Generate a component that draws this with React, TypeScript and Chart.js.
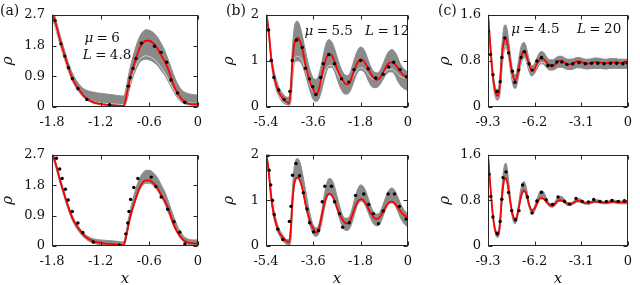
import React, { useEffect, useRef } from "react";
import { Chart, registerables } from "chart.js";

Chart.register(...registerables);

const FONT = "'DejaVu Serif', serif";
const GRAY = "#8a8a8a";
const LIGHT = "#dcdcdc";
const RED = "#ff0000";
const AXIS = "#262626";
const TEXT = "#111111";

// ---------------- Panel (a) ----------------
const aX = [-1.8, -1.75, -1.7, -1.65, -1.6, -1.55, -1.5, -1.45, -1.4, -1.3, -1.2, -1.1, -1.0, -0.92, -0.9, -0.87, -0.84, -0.8, -0.76, -0.72, -0.68, -0.64, -0.6, -0.55, -0.5, -0.45, -0.4, -0.35, -0.3, -0.25, -0.2, -0.15, -0.1, -0.05, 0];
const aRed = [2.78, 2.4, 1.94, 1.55, 1.17, 0.84, 0.62, 0.45, 0.3, 0.15, 0.09, 0.06, 0.04, 0.03, 0.12, 0.45, 0.8, 1.15, 1.45, 1.72, 1.88, 1.94, 1.94, 1.86, 1.72, 1.5, 1.3, 1.0, 0.64, 0.4, 0.23, 0.13, 0.09, 0.08, 0.08];
const aTopHi = [2.95, 2.55, 2.1, 1.7, 1.32, 1.0, 0.78, 0.62, 0.52, 0.44, 0.4, 0.37, 0.34, 0.32, 0.4, 0.75, 1.1, 1.48, 1.8, 2.05, 2.2, 2.26, 2.25, 2.18, 2.05, 1.85, 1.6, 1.28, 0.95, 0.68, 0.5, 0.42, 0.38, 0.36, 0.35];
const aTopLo = [2.6, 2.25, 1.82, 1.43, 1.07, 0.76, 0.55, 0.39, 0.26, 0.12, 0.07, 0.05, 0.03, 0.02, 0.04, 0.25, 0.55, 0.88, 1.12, 1.3, 1.38, 1.4, 1.38, 1.32, 1.22, 1.06, 0.9, 0.68, 0.46, 0.27, 0.14, 0.08, 0.06, 0.05, 0.05];
const aTopLight = [2.65, 2.28, 1.85, 1.46, 1.1, 0.79, 0.58, 0.42, 0.3, 0.17, 0.12, 0.1, 0.08, 0.07, 0.1, 0.35, 0.65, 0.98, 1.22, 1.39, 1.47, 1.5, 1.48, 1.42, 1.3, 1.14, 0.96, 0.74, 0.52, 0.33, 0.2, 0.14, 0.12, 0.11, 0.11];
const aBotHi = [2.85, 2.46, 2.0, 1.6, 1.22, 0.9, 0.67, 0.5, 0.36, 0.22, 0.18, 0.16, 0.14, 0.12, 0.25, 0.62, 1.0, 1.4, 1.74, 2.0, 2.16, 2.24, 2.24, 2.17, 2.03, 1.8, 1.56, 1.22, 0.88, 0.58, 0.36, 0.24, 0.19, 0.18, 0.18];
const aBotLo = [2.7, 2.3, 1.86, 1.46, 1.08, 0.76, 0.54, 0.37, 0.24, 0.09, 0.04, 0.03, 0.02, 0.02, 0.08, 0.4, 0.75, 1.1, 1.4, 1.65, 1.8, 1.86, 1.86, 1.79, 1.65, 1.44, 1.2, 0.9, 0.6, 0.36, 0.18, 0.08, 0.04, 0.03, 0.03];
const aTopDotX = [-1.763, -1.69, -1.642, -1.597, -1.548, -1.48, -1.37, -1.09, -0.859, -0.835, -0.8, -0.762, -0.697, -0.535, -0.454, -0.385, -0.332, -0.251, -0.161];
const aTopDotY = [2.53, 1.85, 1.49, 1.15, 0.83, 0.54, 0.22, 0.07, 0.61, 0.86, 1.13, 1.42, 1.87, 1.78, 1.6, 1.31, 0.79, 0.41, 0.14];
const aBotDotX = [-1.745, -1.705, -1.675, -1.635, -1.6, -1.55, -1.48, -1.42, -1.29, -0.97, -0.89, -0.865, -0.85, -0.83, -0.79, -0.74, -0.575, -0.519, -0.453, -0.373, -0.295, -0.222, -0.16];
const aBotDotY = [2.6, 2.28, 2.0, 1.68, 1.36, 1.02, 0.68, 0.4, 0.12, 0.02, 0.36, 0.68, 1.02, 1.38, 1.73, 2.0, 2.04, 1.76, 1.45, 1.09, 0.72, 0.41, 0.06];
const aXTicks = [-1.8, -1.2, -0.6, 0];
const aXTickLabels = ["-1.8", "-1.2", "-0.6", "0"];
const aYTicks = [0, 0.9, 1.8, 2.7];
const aYTickLabels = ["0", "0.9", "1.8", "2.7"];

// ---------------- Panel (b) ----------------
const bX = [-5.4, -5.3, -5.2, -5.1, -5.0, -4.9, -4.8, -4.7, -4.6, -4.52, -4.45, -4.4, -4.35, -4.3, -4.2, -4.1, -4.0, -3.9, -3.8, -3.7, -3.6, -3.5, -3.4, -3.3, -3.2, -3.1, -3.0, -2.9, -2.8, -2.7, -2.6, -2.5, -2.4, -2.3, -2.2, -2.1, -2.0, -1.9, -1.8, -1.7, -1.6, -1.5, -1.4, -1.3, -1.2, -1.1, -1.0, -0.9, -0.8, -0.7, -0.6, -0.5, -0.4, -0.3, -0.2, -0.1, 0];
const bRed = [2.05, 1.65, 1.05, 0.68, 0.45, 0.3, 0.22, 0.15, 0.1, 0.08, 0.4, 0.95, 1.25, 1.42, 1.5, 1.42, 1.22, 0.92, 0.68, 0.5, 0.38, 0.29, 0.36, 0.6, 0.88, 1.07, 1.15, 1.12, 1.0, 0.84, 0.7, 0.59, 0.51, 0.49, 0.55, 0.7, 0.86, 0.98, 1.03, 1.01, 0.93, 0.82, 0.71, 0.63, 0.59, 0.61, 0.69, 0.8, 0.9, 0.96, 0.97, 0.93, 0.86, 0.78, 0.71, 0.66, 0.63];
const bTopHi = [2.15, 1.75, 1.15, 0.8, 0.58, 0.42, 0.32, 0.25, 0.21, 0.22, 0.65, 1.25, 1.6, 1.8, 1.86, 1.74, 1.5, 1.22, 0.96, 0.76, 0.63, 0.6, 0.68, 0.9, 1.18, 1.4, 1.46, 1.42, 1.28, 1.1, 0.92, 0.78, 0.7, 0.68, 0.74, 0.92, 1.1, 1.24, 1.3, 1.27, 1.16, 1.0, 0.86, 0.77, 0.74, 0.76, 0.86, 1.0, 1.14, 1.22, 1.25, 1.2, 1.1, 0.95, 0.86, 0.8, 0.76];
const bTopLo = [1.95, 1.55, 0.95, 0.58, 0.36, 0.22, 0.12, 0.07, 0.05, 0.04, 0.12, 0.5, 0.85, 0.98, 1.0, 0.98, 0.88, 0.7, 0.5, 0.3, 0.16, 0.12, 0.16, 0.32, 0.55, 0.76, 0.86, 0.86, 0.78, 0.62, 0.46, 0.34, 0.28, 0.28, 0.34, 0.48, 0.64, 0.76, 0.8, 0.78, 0.7, 0.56, 0.46, 0.42, 0.42, 0.46, 0.54, 0.64, 0.72, 0.76, 0.76, 0.7, 0.58, 0.48, 0.42, 0.38, 0.36];
const bTopLight = [1.98, 1.58, 0.98, 0.62, 0.4, 0.25, 0.16, 0.1, 0.08, 0.07, 0.2, 0.62, 0.95, 1.06, 1.1, 1.08, 0.98, 0.8, 0.6, 0.44, 0.34, 0.32, 0.38, 0.52, 0.7, 0.84, 0.9, 0.9, 0.84, 0.74, 0.62, 0.54, 0.5, 0.51, 0.56, 0.64, 0.74, 0.82, 0.85, 0.84, 0.78, 0.7, 0.63, 0.6, 0.6, 0.63, 0.69, 0.75, 0.8, 0.82, 0.82, 0.78, 0.72, 0.67, 0.64, 0.62, 0.61];
const bBotHi = [2.12, 1.75, 1.18, 0.8, 0.55, 0.38, 0.27, 0.19, 0.14, 0.14, 0.6, 1.2, 1.6, 1.82, 1.92, 1.82, 1.56, 1.24, 0.92, 0.64, 0.46, 0.4, 0.45, 0.7, 1.05, 1.35, 1.48, 1.46, 1.32, 1.1, 0.88, 0.7, 0.61, 0.61, 0.68, 0.86, 1.08, 1.26, 1.34, 1.31, 1.2, 1.03, 0.86, 0.74, 0.7, 0.72, 0.82, 0.98, 1.14, 1.24, 1.27, 1.22, 1.1, 0.96, 0.84, 0.76, 0.71];
const bBotLo = [1.96, 1.58, 0.98, 0.62, 0.4, 0.24, 0.14, 0.07, 0.03, 0.02, 0.15, 0.7, 1.15, 1.4, 1.5, 1.42, 1.2, 0.92, 0.64, 0.4, 0.25, 0.21, 0.26, 0.45, 0.75, 1.02, 1.12, 1.1, 0.98, 0.8, 0.6, 0.44, 0.35, 0.34, 0.4, 0.56, 0.76, 0.92, 0.98, 0.96, 0.86, 0.72, 0.58, 0.48, 0.44, 0.46, 0.56, 0.72, 0.86, 0.94, 0.95, 0.9, 0.78, 0.64, 0.53, 0.46, 0.42];
const bTopDotX = [-5.3, -5.2, -5.1, -4.92, -4.71, -4.49, -4.4, -4.24, -4.02, -3.9, -3.75, -3.62, -3.5, -3.32, -3.22, -3.01, -2.79, -2.52, -2.25, -2.05, -1.8, -1.51, -1.22, -0.94, -0.73, -0.54, -0.3, -0.05];
const bTopDotY = [1.67, 1.01, 0.64, 0.37, 0.16, 0.34, 1.01, 1.45, 1.29, 0.84, 0.61, 0.44, 0.27, 0.64, 0.94, 1.14, 0.94, 0.61, 0.54, 0.81, 1.01, 0.83, 0.63, 0.71, 0.87, 0.97, 0.81, 0.65];
const bBotDotX = [-5.31, -5.28, -5.22, -5.15, -5.09, -4.95, -4.76, -4.51, -4.45, -4.39, -4.26, -4.12, -3.98, -3.84, -3.74, -3.59, -3.4, -3.26, -3.16, -2.91, -2.79, -2.6, -2.48, -2.23, -1.99, -1.68, -1.49, -1.31, -1.12, -0.94, -0.75, -0.51, -0.32, -0.07];
const bBotDotY = [1.99, 1.66, 1.34, 1.0, 0.69, 0.37, 0.14, 0.54, 0.87, 1.55, 1.81, 1.54, 1.17, 0.81, 0.51, 0.31, 0.34, 0.97, 1.31, 1.31, 0.97, 0.71, 0.41, 0.51, 1.11, 1.14, 0.91, 0.71, 0.49, 0.77, 1.14, 1.14, 0.87, 0.59];
const bXTicks = [-5.4, -3.6, -1.8, 0];
const bXTickLabels = ["-5.4", "-3.6", "-1.8", "0"];
const bYTicks = [0, 1, 2];
const bYTickLabels = ["0", "1", "2"];

// ---------------- Panel (c) ----------------
const cX = [-9.3, -9.2, -9.1, -9.0, -8.9, -8.8, -8.7, -8.6, -8.5, -8.4, -8.3, -8.2, -8.1, -8.0, -7.9, -7.8, -7.7, -7.6, -7.5, -7.4, -7.3, -7.2, -7.1, -7.0, -6.9, -6.8, -6.7, -6.6, -6.5, -6.4, -6.3, -6.2, -6.0, -5.8, -5.6, -5.4, -5.2, -5.0, -4.8, -4.6, -4.4, -4.2, -4.0, -3.8, -3.6, -3.4, -3.2, -3.0, -2.8, -2.6, -2.4, -2.2, -2.0, -1.8, -1.6, -1.4, -1.2, -1.0, -0.8, -0.6, -0.4, -0.2, 0];
const cRed = [1.62, 1.25, 0.9, 0.6, 0.38, 0.25, 0.19, 0.21, 0.4, 0.78, 1.05, 1.18, 1.18, 1.08, 0.92, 0.75, 0.6, 0.5, 0.46, 0.49, 0.6, 0.74, 0.87, 0.95, 0.97, 0.94, 0.86, 0.76, 0.68, 0.63, 0.63, 0.66, 0.77, 0.84, 0.83, 0.77, 0.72, 0.71, 0.75, 0.8, 0.8, 0.77, 0.74, 0.74, 0.76, 0.79, 0.79, 0.77, 0.755, 0.755, 0.77, 0.78, 0.777, 0.77, 0.762, 0.763, 0.77, 0.775, 0.772, 0.768, 0.766, 0.767, 0.768];
const cTopHi = [1.7, 1.34, 0.98, 0.68, 0.46, 0.34, 0.3, 0.33, 0.58, 0.98, 1.28, 1.42, 1.42, 1.3, 1.1, 0.88, 0.7, 0.6, 0.56, 0.6, 0.76, 0.92, 1.05, 1.11, 1.12, 1.08, 0.98, 0.86, 0.76, 0.72, 0.72, 0.76, 0.88, 0.96, 0.95, 0.87, 0.82, 0.82, 0.85, 0.88, 0.88, 0.85, 0.83, 0.83, 0.84, 0.86, 0.86, 0.84, 0.83, 0.83, 0.84, 0.85, 0.85, 0.84, 0.83, 0.83, 0.84, 0.84, 0.84, 0.83, 0.83, 0.83, 0.83];
const cTopLo = [1.55, 1.15, 0.8, 0.5, 0.28, 0.16, 0.12, 0.13, 0.24, 0.55, 0.84, 1.0, 1.02, 0.95, 0.8, 0.62, 0.45, 0.35, 0.32, 0.36, 0.48, 0.62, 0.74, 0.82, 0.85, 0.82, 0.74, 0.64, 0.57, 0.54, 0.55, 0.58, 0.68, 0.75, 0.74, 0.68, 0.64, 0.64, 0.66, 0.69, 0.69, 0.67, 0.65, 0.65, 0.66, 0.68, 0.68, 0.67, 0.66, 0.66, 0.67, 0.67, 0.67, 0.67, 0.66, 0.66, 0.67, 0.67, 0.67, 0.67, 0.67, 0.67, 0.67];
const cTopLight = [1.58, 1.18, 0.83, 0.54, 0.33, 0.21, 0.17, 0.19, 0.32, 0.65, 0.92, 1.05, 1.06, 0.98, 0.84, 0.68, 0.54, 0.46, 0.44, 0.47, 0.56, 0.67, 0.77, 0.84, 0.86, 0.83, 0.77, 0.69, 0.63, 0.61, 0.62, 0.64, 0.72, 0.77, 0.77, 0.73, null, null, null, null, null, null, null, null, null, null, null, null, null, null, null, null, null, null, null, null, null, null, null, null, null, null, null];
const cBotHi = [1.66, 1.3, 0.95, 0.65, 0.43, 0.3, 0.25, 0.27, 0.5, 0.92, 1.25, 1.42, 1.45, 1.32, 1.08, 0.82, 0.62, 0.52, 0.49, 0.53, 0.68, 0.86, 1.02, 1.11, 1.13, 1.08, 0.96, 0.8, 0.69, 0.64, 0.65, 0.7, 0.86, 0.97, 0.95, 0.83, 0.75, 0.74, 0.8, 0.87, 0.87, 0.81, 0.76, 0.76, 0.79, 0.83, 0.83, 0.8, 0.77, 0.77, 0.79, 0.81, 0.81, 0.79, 0.78, 0.78, 0.8, 0.81, 0.8, 0.79, 0.79, 0.79, 0.79];
const cBotLo = [1.58, 1.22, 0.87, 0.57, 0.36, 0.22, 0.15, 0.16, 0.32, 0.66, 0.96, 1.14, 1.17, 1.08, 0.9, 0.7, 0.52, 0.42, 0.39, 0.43, 0.56, 0.71, 0.85, 0.93, 0.95, 0.91, 0.82, 0.71, 0.62, 0.57, 0.57, 0.61, 0.74, 0.83, 0.82, 0.75, 0.69, 0.68, 0.72, 0.78, 0.78, 0.75, 0.71, 0.71, 0.74, 0.77, 0.77, 0.75, 0.73, 0.73, 0.75, 0.76, 0.76, 0.75, 0.74, 0.74, 0.75, 0.76, 0.75, 0.74, 0.74, 0.74, 0.74];
const cTopDotX = [-9.28, -9.13, -8.97, -8.69, -8.49, -8.38, -8.18, -7.93, -7.68, -7.51, -7.26, -7.1, -6.88, -6.57, -6.37, -6.05, -5.74, -5.32, -5.05, -4.72, -4.39, -4.05, -3.66, -3.25, -2.83, -2.41, -2.0, -1.58, -1.16, -0.75, -0.33, 0];
const cTopDotY = [1.31, 0.91, 0.56, 0.27, 0.44, 0.86, 1.2, 0.94, 0.62, 0.43, 0.64, 0.86, 0.96, 0.75, 0.64, 0.8, 0.86, 0.72, 0.72, 0.78, 0.78, 0.74, 0.75, 0.77, 0.75, 0.76, 0.76, 0.75, 0.76, 0.76, 0.75, 0.76];
const cBotDotX = [-9.24, -9.11, -8.97, -8.69, -8.49, -8.38, -8.3, -8.1, -7.93, -7.72, -7.47, -7.24, -7.0, -6.68, -6.37, -6.05, -5.74, -5.43, -5.01, -4.64, -4.22, -3.87, -3.45, -3.04, -2.62, -2.27, -1.85, -1.43, -1.06, -0.64, -0.23];
const cBotDotY = [1.26, 0.87, 0.51, 0.22, 0.43, 0.82, 1.2, 1.3, 0.94, 0.62, 0.46, 0.62, 1.07, 0.86, 0.58, 0.79, 0.94, 0.81, 0.73, 0.86, 0.785, 0.735, 0.835, 0.78, 0.775, 0.815, 0.78, 0.78, 0.8, 0.78, 0.795];
const cXTicks = [-9.3, -6.2, -3.1, 0];
const cXTickLabels = ["-9.3", "-6.2", "-3.1", "0"];
const cYTicks = [0, 0.8, 1.6];
const cYTickLabels = ["0", "0.8", "1.6"];

type Seg = [string, boolean, number];
type Note = { x: number; y: number; segs: Seg[] };

interface PanelSpec {
  left: number; top: number; width: number; height: number;
  padTop: number; padRight: number; yAxisW: number; xAxisH: number;
  xMin: number; xMax: number; yMax: number;
  xTicks: number[]; xTickLabels: string[]; yTicks: number[]; yTickLabels: string[];
  xs: number[]; red: number[]; hi: number[]; lo: number[]; light?: (number | null)[];
  dotX: number[]; dotY: number[];
  letter?: string; letterX?: number; letterY?: number;
  yTitlePad: number; showXTitle: boolean; notes: Note[];
}

const G = 0.25;
const notesA: Note[] = [
  { x: -1.4, y: 1.91, segs: [["μ", true, G], ["=", false, G], ["6", false, 0]] },
  { x: -1.42, y: 1.42, segs: [["L", true, G], ["=", false, G], ["4.8", false, 0]] },
];
const notesB: Note[] = [
  { x: -3.93, y: 1.556, segs: [["μ", true, G], ["=", false, G], ["5.5", false, 0.9], ["L", true, G], ["=", false, G], ["12", false, 0]] },
];
const notesC: Note[] = [
  { x: -7.76, y: 1.276, segs: [["μ", true, G], ["=", false, G], ["4.5", false, 1.3], ["L", true, G], ["=", false, G], ["20", false, 0]] },
];

function makeDecor(s: PanelSpec) {
  return {
    id: "decor",
    afterDraw(chart: any) {
      const { ctx, chartArea: ca } = chart;
      const xs = chart.scales.x;
      const ys = chart.scales.y;
      ctx.save();
      ctx.strokeStyle = AXIS;
      ctx.lineWidth = 1;
      const L = Math.round(ca.left) + 0.5;
      const R = Math.round(ca.right) - 0.5;
      const T = Math.round(ca.top) + 0.5;
      const B = Math.round(ca.bottom) - 0.5;
      ctx.strokeRect(L, T, R - L, B - T);
      const tl = 4;
      ctx.beginPath();
      s.xTicks.forEach((v) => {
        const p = Math.round(xs.getPixelForValue(v)) + 0.5;
        ctx.moveTo(p, B); ctx.lineTo(p, B - tl);
        ctx.moveTo(p, T); ctx.lineTo(p, T + tl);
      });
      s.yTicks.forEach((v) => {
        const p = Math.round(ys.getPixelForValue(v)) + 0.5;
        ctx.moveTo(L, p); ctx.lineTo(L + tl, p);
        ctx.moveTo(R, p); ctx.lineTo(R - tl, p);
      });
      ctx.stroke();
      ctx.fillStyle = TEXT;
      ctx.textBaseline = "alphabetic";
      ctx.textAlign = "left";
      if (s.letter) {
        ctx.font = `14px ${FONT}`;
        ctx.fillText(s.letter, s.letterX, s.letterY);
      }
      const fs = 13.5;
      s.notes.forEach((n) => {
        let x = xs.getPixelForValue(n.x);
        const y = ys.getPixelForValue(n.y);
        n.segs.forEach(([t, it, gap]) => {
          ctx.font = `${it ? "italic " : ""}${fs}px ${FONT}`;
          ctx.fillText(t, x, y);
          x += ctx.measureText(t).width + gap * fs;
        });
      });
      ctx.restore();
    },
  };
}

function Panel({ s }: { s: PanelSpec }) {
  const ref = useRef<HTMLCanvasElement>(null);
  useEffect(() => {
    const pts = (ys: (number | null)[]) => s.xs.map((x, i) => ({ x, y: ys[i] }));
    const datasets: any[] = [
      {
        data: s.dotX.map((x, i) => ({ x, y: s.dotY[i] })),
        showLine: false, pointRadius: 1.7, pointBackgroundColor: "#000",
        pointBorderWidth: 0, borderColor: "#000", order: 0,
      },
      {
        data: pts(s.red), borderColor: RED, borderWidth: 1.8, pointRadius: 0,
        cubicInterpolationMode: "monotone", fill: false, order: 1,
      },
    ];
    if (s.light) {
      datasets.push({
        data: pts(s.light), borderColor: LIGHT, borderWidth: 0.9, pointRadius: 0,
        cubicInterpolationMode: "monotone", fill: false, order: 2, spanGaps: false,
      });
    }
    datasets.push({
      data: pts(s.hi), borderColor: GRAY, backgroundColor: GRAY, borderWidth: 1,
      pointRadius: 0, cubicInterpolationMode: "monotone", fill: "+1", order: 3,
    });
    datasets.push({
      data: pts(s.lo), borderColor: GRAY, borderWidth: 1, pointRadius: 0,
      cubicInterpolationMode: "monotone", fill: false, order: 4,
    });
    const tickFont = { family: FONT, size: 13 };
    const chart = new Chart(ref.current as HTMLCanvasElement, {
      type: "line",
      data: { datasets },
      options: {
        responsive: false,
        animation: false,
        devicePixelRatio: 1,
        events: [],
        layout: { padding: { left: 0, top: s.padTop, right: s.padRight, bottom: 0 } },
        plugins: { legend: { display: false }, tooltip: { enabled: false } },
        scales: {
          x: {
            type: "linear", min: s.xMin, max: s.xMax,
            afterBuildTicks: (sc: any) => { sc.ticks = s.xTicks.map((v) => ({ value: v })); },
            afterFit: (sc: any) => { sc.height = s.xAxisH; },
            ticks: {
              callback: (_v: any, i: number) => s.xTickLabels[i],
              font: tickFont, color: TEXT, padding: 8, maxRotation: 0, autoSkip: false,
            },
            grid: { display: false, drawTicks: false },
            border: { display: false },
            title: {
              display: s.showXTitle, text: "x", color: TEXT,
              font: { family: FONT, size: 15, style: "italic", lineHeight: 0.75 },
              padding: 0,
            },
          },
          y: {
            type: "linear", min: 0, max: s.yMax,
            afterBuildTicks: (sc: any) => { sc.ticks = s.yTicks.map((v) => ({ value: v })); },
            afterFit: (sc: any) => { sc.width = s.yAxisW; },
            ticks: {
              callback: (_v: any, i: number) => s.yTickLabels[i],
              font: tickFont, color: TEXT, padding: 7, autoSkip: false,
            },
            grid: { display: false, drawTicks: false },
            border: { display: false },
            title: {
              display: true, text: "ρ", color: TEXT,
              font: { family: FONT, size: 15, style: "italic", lineHeight: 1 },
              padding: { top: s.yTitlePad, bottom: 0 },
            },
          },
        },
      } as any,
      plugins: [makeDecor(s) as any],
    });
    return () => chart.destroy();
  }, [s]);
  return (
    <canvas
      ref={ref}
      width={s.width}
      height={s.height}
      style={{ position: "absolute", left: s.left, top: s.top, width: s.width, height: s.height }}
    />
  );
}

const colA = { xMin: -1.8, xMax: 0, yMax: 2.7, xTicks: aXTicks, xTickLabels: aXTickLabels, yTicks: aYTicks, yTickLabels: aYTickLabels, xs: aX, red: aRed, left: 0, width: 210, yAxisW: 52, padRight: 10, yTitlePad: 1 };
const colB = { xMin: -5.4, xMax: 0, yMax: 2, xTicks: bXTicks, xTickLabels: bXTickLabels, yTicks: bYTicks, yTickLabels: bYTickLabels, xs: bX, red: bRed, left: 210, width: 210, yAxisW: 56, padRight: 8, yTitlePad: 12 };
const colC = { xMin: -9.3, xMax: 0, yMax: 1.6, xTicks: cXTicks, xTickLabels: cXTickLabels, yTicks: cYTicks, yTickLabels: cYTickLabels, xs: cX, red: cRed, left: 420, width: 220, yAxisW: 68, padRight: 3, yTitlePad: 18 };
const topRow = { top: 0, height: 140, padTop: 8, xAxisH: 33, showXTitle: false };
const botRow = { top: 140, height: 145, padTop: 7, xAxisH: 39, showXTitle: true };

const PANELS: PanelSpec[] = [
  { ...colA, ...topRow, hi: aTopHi, lo: aTopLo, light: aTopLight, dotX: aTopDotX, dotY: aTopDotY, letter: "(a)", letterX: 0, letterY: 15, notes: notesA },
  { ...colB, ...topRow, hi: bTopHi, lo: bTopLo, light: bTopLight, dotX: bTopDotX, dotY: bTopDotY, letter: "(b)", letterX: 16, letterY: 15, notes: notesB },
  { ...colC, ...topRow, hi: cTopHi, lo: cTopLo, light: cTopLight, dotX: cTopDotX, dotY: cTopDotY, letter: "(c)", letterX: 18, letterY: 15, notes: notesC },
  { ...colA, ...botRow, hi: aBotHi, lo: aBotLo, dotX: aBotDotX, dotY: aBotDotY, notes: [] },
  { ...colB, ...botRow, hi: bBotHi, lo: bBotLo, dotX: bBotDotX, dotY: bBotDotY, notes: [] },
  { ...colC, ...botRow, hi: cBotHi, lo: cBotLo, dotX: cBotDotX, dotY: cBotDotY, notes: [] },
];

export default function App() {
  return (
    <div style={{ position: "absolute", left: 0, top: 0, width: 640, height: 285, background: "#fff", overflow: "hidden" }}>
      {PANELS.map((p, i) => (
        <Panel key={i} s={p} />
      ))}
    </div>
  );
}
